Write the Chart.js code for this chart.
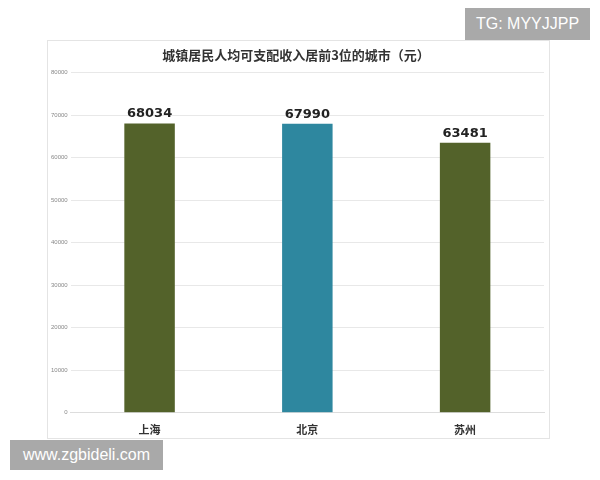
<!DOCTYPE html>
<html><head><meta charset="utf-8">
<script src="https://cdn.jsdelivr.net/npm/chart.js@4"></script>
<style>
body{margin:0;width:600px;height:480px;background:#fff;position:relative;overflow:hidden;font-family:"Liberation Sans",Arial,sans-serif}
#card{position:absolute;left:47px;top:40px;width:503px;height:399px;border:1px solid #e4e4e4;box-sizing:border-box}
.wm{position:absolute;background:#a9a9a9;color:#fff;font-size:16px;display:flex;align-items:center;justify-content:center}
</style></head><body>
<div id="card"><canvas id="c"></canvas></div>
<div class="wm" style="left:465px;top:8px;width:125px;height:32px">TG: MYYJJPP</div>
<div class="wm" style="left:10px;top:440px;width:153px;height:30px">www.zgbideli.com</div>
<script>
const categories=["上海","北京","苏州"];
const values=[68034,67990,63481];
const colors=["#53622a","#2e879f","#53622a"];
const labelPlugin={id:'lbl',afterDatasetsDraw(ch){const c=ch.ctx;const m=ch.getDatasetMeta(0);c.save();c.font='bold 13px "DejaVu Sans",sans-serif';c.fillStyle='#222';c.textAlign='center';c.textBaseline='bottom';m.data.forEach((b,i)=>c.fillText(values[i],b.x,b.y-3));c.restore();}};
new Chart(document.getElementById('c'),{type:'bar',
data:{labels:categories,datasets:[{data:values,backgroundColor:colors,barPercentage:0.64,categoryPercentage:0.5}]},
options:{responsive:true,maintainAspectRatio:false,animation:false,
layout:{padding:{left:0,right:5,top:6,bottom:0}},
plugins:{legend:{display:false},tooltip:{enabled:false},
title:{display:true,text:"城镇居民人均可支配收入居前3位的城市（元）",font:{family:'"Noto Sans CJK SC"',size:13,weight:'bold'},color:'#333',padding:{top:0,bottom:10}}},
scales:{y:{min:0,max:80000,ticks:{stepSize:10000,font:{size:6},color:'#888',callback:v=>String(v),padding:3},grid:{color:'#e8e8e8',drawTicks:false},border:{display:false}},
x:{grid:{display:false},ticks:{font:{family:'"Noto Sans CJK SC"',size:11,weight:'bold'},color:'#333',padding:2},border:{color:'#ddd'}}}}
,plugins:[labelPlugin]});
</script></body></html>
